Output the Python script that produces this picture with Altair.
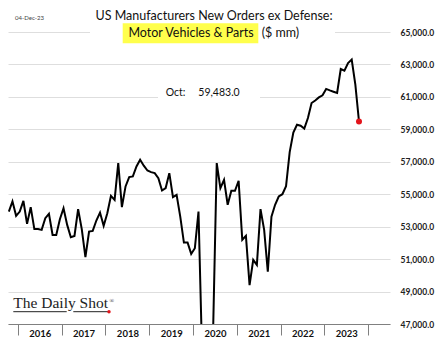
import altair as alt
import pandas as pd

# Monthly values, Oct 2015 .. Oct 2023 ($ mm)
start = "2015-10"
values = [
    53930, 54560, 53670,                                                   # 2015 Oct-Dec
    53930, 54590, 53170, 54200, 52850, 52850, 52800, 53520, 53790, 52490, 52490, 53460,  # 2016
    54140, 53110, 52350, 52430, 54080, 52850, 51120, 52700, 52740, 53380, 53870, 53050,  # 2017
    53830, 54900, 54650, 56920, 54200, 55480, 56060, 56100, 56710, 57120, 56760, 56460,  # 2018
    56360, 56300, 55990, 55230, 55380, 56300, 54820, 54960, 53620, 52020, 52020, 51320,  # 2019
    51670, 53930, 45000, 28000, 38000, 46500, 56920, 55380, 55890, 54350, 55210, 55210,  # 2020
    55830, 52190, 52430, 49400, 50950, 50640, 54080, 52800, 50230, 53620, 54350, 54860,  # 2021
    55000, 55500, 57600, 58800, 59280, 59220, 59050, 59700, 60620, 60780, 60970, 61100,  # 2022
    61490, 61400, 61320, 61240, 62720, 62620, 63090, 63300, 61750, 59483,                # 2023
]
y_ticks = [47000, 49000, 51000, 53000, 55000, 57000, 59000, 61000, 63000, 65000]
year_ticks = [2016, 2017, 2018, 2019, 2020, 2021, 2022, 2023, 2024]

periods = pd.period_range(start, periods=len(values), freq="M")
df = pd.DataFrame({
    "t": [p.year + (p.month - 0.5) / 12 for p in periods],
    "v": values,
})
last = df.tail(1)

FONT = "Lato"
x_enc = alt.X("t:Q", scale=alt.Scale(domain=[2015.773, 2024.5], nice=False, zero=False),
              axis=alt.Axis(values=year_ticks, format="d",
                            labelExpr="datum.value >= 2024 ? '' : datum.label",
                            labelOffset=21.9, tickSize=11, labelPadding=-7,
                            grid=False, domainColor="#808080", tickColor="#808080",
                            labelFont=FONT, labelFontSize=9.5, labelFontWeight="bold",
                            labelColor="#111111", labelOverlap=False, title=None))
y_enc = alt.Y("v:Q", scale=alt.Scale(domain=[47000, 65000], nice=False, zero=False),
              axis=alt.Axis(orient="right", values=y_ticks, format=",.1f", grid=True,
                            gridColor="#dedede", ticks=False, domain=False, labelPadding=10,
                            labelFont=FONT, labelFontSize=8.5, labelFontWeight="bold",
                            labelColor="#222222", labelOverlap=False, labelFlush=False,
                            labelBound=False, title=None))

one = pd.DataFrame({"a": [0]})

def box(x1, x2, y1, y2, color):
    return alt.Chart(one).mark_rect(color=color).encode(
        x=alt.value(x1), x2=alt.value(x2), y=alt.value(y1), y2=alt.value(y2))

def label(txt, x, y, size, align="left", font=FONT, color="#111111", weight="normal", baseline="middle"):
    return alt.Chart(pd.DataFrame({"s": [txt]})).mark_text(
        align=align, baseline=baseline, font=font, fontSize=size, color=color, fontWeight=weight
    ).encode(x=alt.value(x), y=alt.value(y), text="s:N")

title_box = box(82, 327, -24, 8, "white")
ann_box = box(150, 252, 54, 69, "white")
highlight = box(114.7, 250.3, -8.7, 11.3, "#ffff4c")

line = alt.Chart(df).mark_line(color="black", strokeWidth=2, clip=True).encode(x=x_enc, y=y_enc)
dot = alt.Chart(last).mark_circle(color="#e3141b", size=36, opacity=1).encode(x=x_enc, y=y_enc)

t1 = label("US Manufacturers New Orders ex Defense:", 206, -16.5, 12.5, align="center")
t2 = label("Motor Vehicles & Parts", 183, 1.3, 12.5, align="center")
t3 = label("($ mm)", 253.7, 1.3, 12.5)
date = label("04-Dec-23", 7, -14.3, 6, color="#444444")
oct_lbl = label("Oct:", 157.7, 61.3, 10.5)
oct_val = label("59,483.0", 190.3, 61.3, 10.5)
logo = label("The Daily Shot", 5.3, 276.3, 15.5, font="Liberation Serif", color="#222222", baseline="alphabetic")
reg = label("®", 101.5, 268.5, 6, font="Liberation Serif", color="#222222")

def hline(x1, x2, y):
    return alt.Chart(one).mark_rule(color="#222222", strokeWidth=1).encode(
        x=alt.value(x1), x2=alt.value(x2), y=alt.value(y))

u1 = hline(5.3, 58.7, 279.7)
u2 = hline(65.3, 100.3, 279.7)
logo_dot = alt.Chart(one).mark_circle(color="#e3141b", size=12, opacity=1).encode(
    x=alt.value(101), y=alt.value(279.7))

chart = alt.layer(
    title_box, ann_box, highlight, line, dot,
    t1, t2, t3, date, oct_lbl, oct_val, logo, reg, u1, u2, logo_dot,
).properties(
    width=382, height=292,
    padding={"left": 0, "top": 24, "right": 50, "bottom": 28},
    autosize="none", background="white",
).configure_view(stroke=None)

chart.save("out.html", embed_options={"renderer": "svg", "actions": False})
